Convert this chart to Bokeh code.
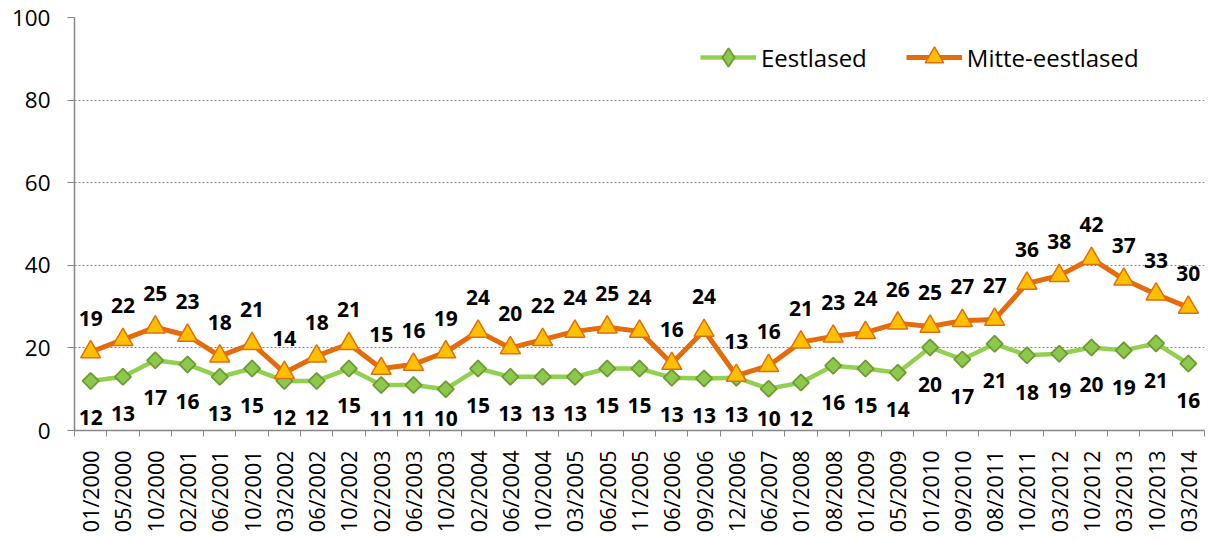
import math
from bokeh.plotting import figure
from bokeh.models import (Range1d, FixedTicker, Legend, LegendItem, ColumnDataSource)
from bokeh.core.properties import value
from bokeh.embed import file_html
from bokeh.resources import INLINE

categories = ["01/2000", "05/2000", "10/2000", "02/2001", "06/2001", "10/2001", "03/2002",
              "06/2002", "10/2002", "02/2003", "06/2003", "10/2003", "02/2004", "06/2004",
              "10/2004", "03/2005", "06/2005", "11/2005", "06/2006", "09/2006", "12/2006",
              "06/2007", "01/2008", "08/2008", "01/2009", "05/2009", "01/2010", "09/2010",
              "08/2011", "10/2011", "03/2012", "10/2012", "03/2013", "10/2013", "03/2014"]

eestlased = [12, 13, 17, 16, 13, 15, 12, 12, 15, 11, 11, 10, 15, 13, 13, 13, 15, 15,
             12.8, 12.6, 12.8, 10.1, 11.6, 15.7, 15, 14, 20.1, 17.2, 21, 18.2, 18.6,
             20.1, 19.4, 21.1, 16.2]
mitte_eestlased = [19, 22, 25, 23, 18, 21, 14, 18, 21, 15, 16, 19, 24, 20, 22, 24, 25, 24,
                   16.2, 24.2, 13.3, 15.7, 21.4, 22.8, 23.7, 26.0, 25.2, 26.6, 26.9, 35.6,
                   37.5, 41.6, 36.6, 33.0, 29.8]

y_ticks = [0, 20, 40, 60, 80, 100]
series_names = ["Eestlased", "Mitte-eestlased"]

FONT = "Open Sans"
GREEN_LINE = "#92D050"
GREEN_FILL = "#8CC84B"
GREEN_EDGE = "#6F9A33"
ORANGE_LINE = "#E46C0A"
ORANGE_FILL = "#FFC000"
AXIS_GRAY = "#868686"

n = len(categories)
xs = list(range(n))

p = figure(width=1208, height=541, output_backend="svg", toolbar_location=None,
           x_range=Range1d(-0.5, n - 0.5), y_range=Range1d(0, 100),
           min_border_left=74, min_border_right=4, min_border_top=17, min_border_bottom=111)
p.outline_line_color = None
p.background_fill_color = "white"
p.border_fill_color = "white"

# axes
p.xaxis.ticker = FixedTicker(ticks=xs, minor_ticks=[i - 0.5 for i in range(n + 1)])
p.xaxis.major_label_overrides = {i: c for i, c in enumerate(categories)}
p.xaxis.major_label_orientation = math.pi / 2
p.xaxis.major_tick_out = 0
p.xaxis.major_tick_in = 0
p.xaxis.minor_tick_out = 6
p.xaxis.minor_tick_in = 0
p.xaxis.minor_tick_line_color = AXIS_GRAY
p.xaxis.axis_line_color = AXIS_GRAY
p.xaxis.axis_line_width = 1.5
p.xaxis.major_label_text_font = FONT
p.xaxis.major_label_text_font_size = "21.5px"
p.xaxis.major_label_text_color = "black"
p.xaxis.major_label_standoff = 14

p.yaxis.ticker = FixedTicker(ticks=y_ticks)
p.yaxis.major_tick_out = 7
p.yaxis.major_tick_in = 0
p.yaxis.minor_tick_line_color = None
p.yaxis.major_tick_line_color = AXIS_GRAY
p.yaxis.axis_line_color = AXIS_GRAY
p.yaxis.axis_line_width = 1.5
p.yaxis.major_label_text_font = FONT
p.yaxis.major_label_text_font_size = "22.5px"
p.yaxis.major_label_text_color = "black"
p.yaxis.major_label_standoff = 17

p.xgrid.grid_line_color = None
p.ygrid.ticker = FixedTicker(ticks=y_ticks[1:])
p.ygrid.grid_line_color = AXIS_GRAY
p.ygrid.grid_line_dash = "2 2"
p.ygrid.grid_line_width = 1.2

# Labels below the green points are kept inside the plot area (as the original does)
g_label_anchor = [max(v, 11.9) for v in eestlased]

src_g = ColumnDataSource(dict(x=xs, y=eestlased, ly=g_label_anchor,
                              lab=[str(round(v)) for v in eestlased]))
src_o = ColumnDataSource(dict(x=xs, y=mitte_eestlased,
                              lab=[str(round(v)) for v in mitte_eestlased]))

lg = p.line("x", "y", source=src_g, line_color=GREEN_LINE, line_width=4.5)
mg = p.scatter("x", "y", source=src_g, marker="square", angle=math.pi / 4, size=11.5,
               fill_color=GREEN_FILL, line_color=GREEN_EDGE, line_width=1.8)
lo = p.line("x", "y", source=src_o, line_color=ORANGE_LINE, line_width=5)
mo = p.scatter("x", "y", source=src_o, marker="triangle", size=20,
               fill_color=ORANGE_FILL, line_color=ORANGE_LINE, line_width=1.5)

p.text("x", "ly", text="lab", source=src_g, text_font=value(FONT), text_font_style="bold",
       text_font_size="21px", text_align="center", text_baseline="middle", y_offset=37,
       text_color="black")
p.text("x", "y", text="lab", source=src_o, text_font=value(FONT), text_font_style="bold",
       text_font_size="21px", text_align="center", text_baseline="middle", y_offset=-34,
       text_color="black")

# legend-only marker renderers (a single off-plot NaN point) for the legend symbols
nan_src = ColumnDataSource(dict(x=[float("nan")], y=[float("nan")]))
lmg = p.scatter("x", "y", source=nan_src, marker="diamond", size=10,
                fill_color=GREEN_FILL, line_color=GREEN_EDGE, line_width=1.8)
lmo = p.scatter("x", "y", source=nan_src, marker="triangle", size=10,
                fill_color=ORANGE_FILL, line_color=ORANGE_LINE, line_width=1.5)

legend = Legend(items=[LegendItem(label=series_names[0], renderers=[lg, lmg]),
                       LegendItem(label=series_names[1], renderers=[lo, lmo])],
                orientation="horizontal", location=(626, 350),
                glyph_width=56, glyph_height=46, label_standoff=5, spacing=39,
                padding=0, margin=0, border_line_color=None, background_fill_alpha=0,
                label_text_font=FONT, label_text_font_size="24px", label_text_color="black")
p.add_layout(legend, "center")

open("out.html", "w").write(file_html(p, INLINE))
